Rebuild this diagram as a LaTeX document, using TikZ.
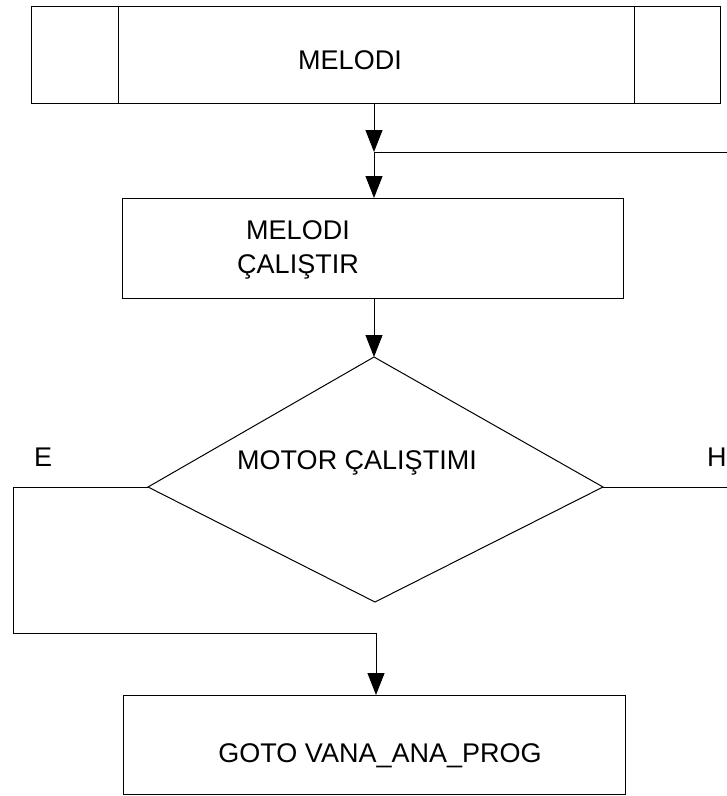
\documentclass[tikz,border=0pt]{standalone}
\usepackage{fontspec}
\setmainfont{Liberation Sans}
\usetikzlibrary{arrows.meta}
\begin{document}
\begin{tikzpicture}[x=1pt,y=-1pt,
  line/.style={draw=black,line width=1pt},
  flow/.style={line,-{Triangle[length=22pt,width=17pt]}},
  lbl/.style={font=\fontsize{27}{34}\selectfont,inner sep=0pt,align=center},
  boxed/.style={line,fill=white}]
\useasboundingbox (0,0) rectangle (727,796);

% predefined process: MELODI
\draw[boxed] (31,6) rectangle (720,103);
\draw[line] (118,6) -- (118,103);
\draw[line] (634,6) -- (634,103);
\coordinate (p1bot) at (374,103);
\node[lbl] (p1) at (350,60) {MELODI};

% process box
\draw[boxed] (122,198) rectangle (623,298);
\coordinate (b2top) at (374,198);
\coordinate (b2bot) at (374,298);
\node[lbl] (b2) at (298,250) {MELODI\\ÇALIŞTIR};

% decision
\coordinate (dtop) at (374,357);
\coordinate (dright) at (603,487);
\coordinate (dbot) at (375,602);
\coordinate (dleft) at (148,487);
\draw[line] (dtop) -- (dright) -- (dbot) -- (dleft) -- cycle;
\node[lbl] (d) at (357,463) {MOTOR ÇALIŞTIMI};

% final box
\draw[boxed] (123,695) rectangle (625,794);
\coordinate (b3top) at (376,695);
\node[lbl] (b3) at (380,756) {GOTO VANA\_ANA\_PROG};

% connectors
\coordinate (join) at (374,152);
\coordinate (loopin) at (727,152);
\coordinate (eturn) at (13,487);
\coordinate (ecorner) at (13,633);
\coordinate (eend) at (376,633);
\coordinate (hend) at (727,487);

\draw[flow] (p1bot) -- (join);
\draw[line] (join) -- (loopin);
\draw[flow] (join) -- (b2top);
\draw[flow] (b2bot) -- (dtop);
\draw[line] (dleft) -- (eturn) -- (ecorner) -- (eend);
\draw[flow] (eend) -- (b3top);
\draw[line] (dright) -- (hend);

% branch labels
\node[lbl,anchor=west] (e) at (34,457) {E};
\node[lbl,anchor=west] (h) at (707,457) {H};
\end{tikzpicture}
\end{document}
